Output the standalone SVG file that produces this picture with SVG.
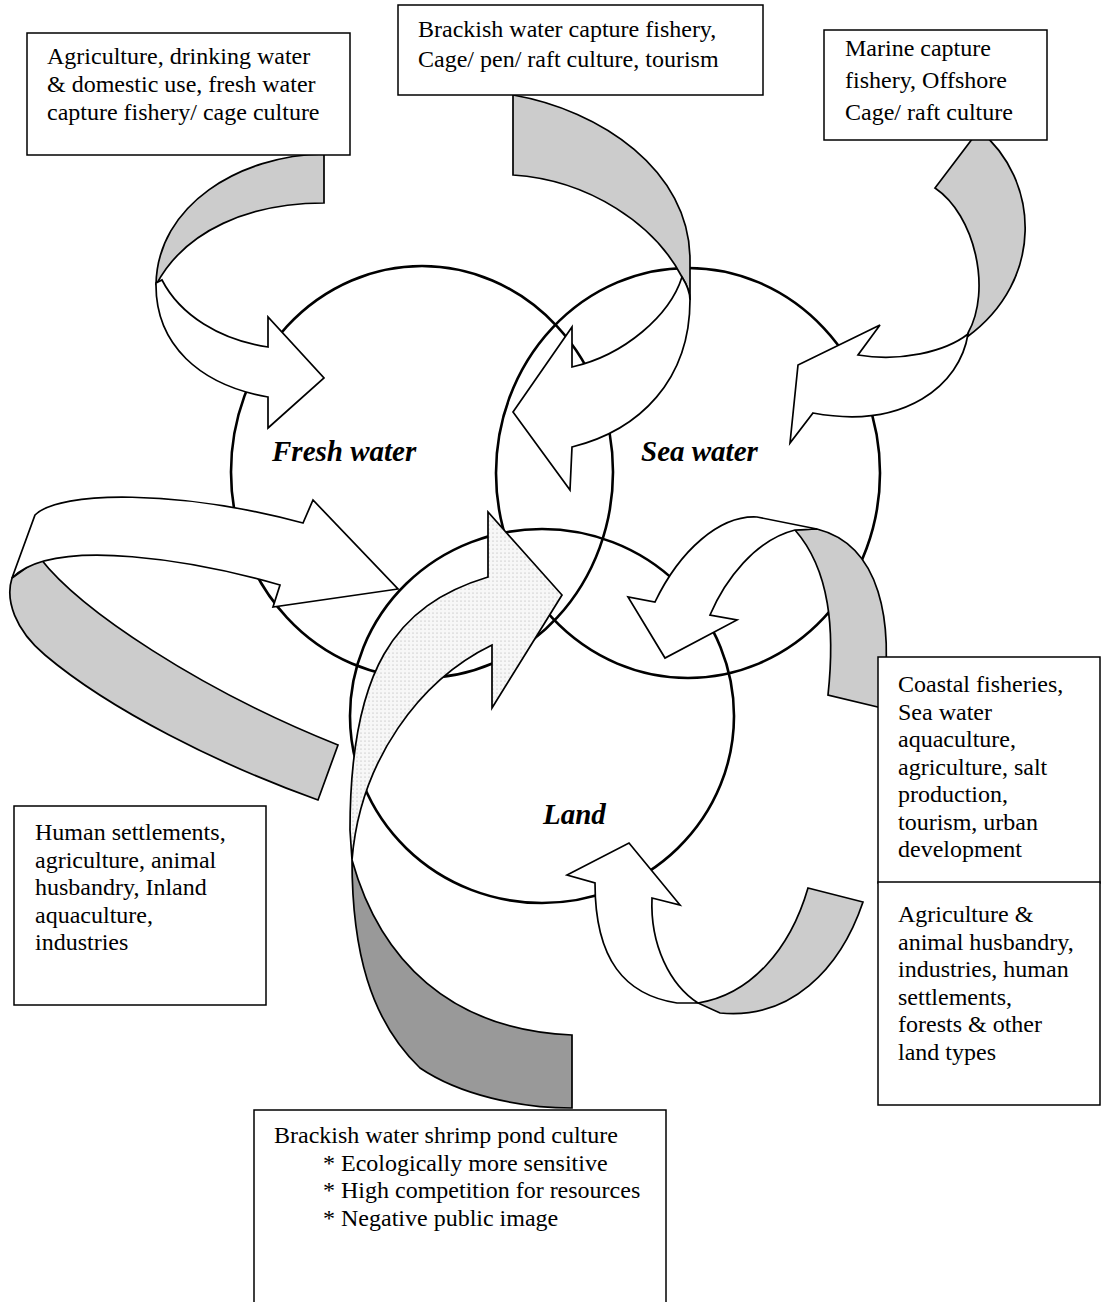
<svg xmlns="http://www.w3.org/2000/svg" width="1108" height="1302" viewBox="0 0 1108 1302">
<defs>
<pattern id="dots" width="4" height="4" patternUnits="userSpaceOnUse">
<rect width="4" height="4" fill="#f7f7f7"/>
<circle cx="1" cy="1" r="0.6" fill="#a8a8a8"/>
</pattern>
<style>
.box{fill:#fff;stroke:#000;stroke-width:1.5}
.t{font-family:"Liberation Serif","Times New Roman",serif;font-size:24px;fill:#000}
.lbl{font-family:"Liberation Serif","Times New Roman",serif;font-size:29px;font-weight:bold;font-style:italic;fill:#000}
.circ{fill:none;stroke:#000;stroke-width:2.6}
.g{fill:#cccccc;stroke:#000;stroke-width:1.7;stroke-linejoin:miter}
.w{fill:#fff;stroke:#000;stroke-width:1.7;stroke-linejoin:miter}
.d{fill:url(#dots);stroke:#000;stroke-width:1.7}
.k{fill:#999999;stroke:#000;stroke-width:1.7}
</style>
</defs>
<rect width="1108" height="1302" fill="#fff"/>

<g id="circles">
<ellipse id="fresh" class="circ" cx="422" cy="472" rx="191" ry="206"/>
<ellipse id="sea" class="circ" cx="688" cy="473" rx="192" ry="205"/>
<ellipse id="land" class="circ" cx="542" cy="716" rx="192" ry="187"/>
</g>

<g id="connectors">
<g id="arrow-freshwater">
<path class="g" d="M324,154 C240,155 157,205 156,285 C185,230 250,203 324,203 Z"/>
<path class="w" d="M156,283 C155,345 200,385 268,397 L268,428 L324,378 L268,317 L268,347 C220,340 180,315 162,280 Z"/>
</g>
<g id="arrow-brackish">
<path class="g" d="M513,95 C600,110 690,170 690,260 L690,300 C690,292 687,285 682,277 C655,225 590,180 513,175 Z"/>
<path class="w" d="M682,277 C670,315 625,355 572,367 L572,327 L513,412 L570,490 L572,447 C640,430 690,380 690,300 C690,292 687,285 682,277 Z"/>
</g>
<g id="arrow-marine">
<path class="g" d="M979,130 C1040,180 1045,280 967,337 L968,333 C992,290 975,215 935,188 Z"/>
<path class="w" d="M968,334 C960,385 905,430 813,413 L790,443 L798,365 L880,325 L858,355 C900,362 945,352 968,334 Z"/>
</g>
<g id="arrow-human">
<path class="g" d="M12,578 C5,600 15,630 45,655 C110,710 220,765 318,800 L338,745 C200,690 80,610 40,558 Z"/>
<path class="w" d="M35,515 C60,490 180,490 303,523 L313,500 L398,589 L273,607 L280,585 C200,562 55,535 12,578 Z"/>
</g>
<g id="arrow-shrimp">
<path class="k" d="M352,860 C352,950 370,1020 420,1068 C460,1095 520,1108 572,1108 L572,1035 C450,1030 380,960 352,860 Z"/>
<path class="d" d="M488,577 L488,512 L562,595 L492,708 L492,645 C420,680 360,760 352,860 L350,830 C350,670 395,605 488,577 Z"/>
</g>
<g id="arrow-coastal">
<path class="g" d="M795,530 L817,529 C880,545 895,620 882,708 L828,695 C835,630 830,570 795,530 Z"/>
<path class="w" d="M817,529 L757,517 C720,515 680,550 655,602 L628,597 L665,658 L737,620 L710,615 C725,580 755,540 795,530 Z"/>
</g>
<g id="arrow-land">
<path class="g" d="M808,888 L863,902 C840,970 790,1020 720,1013 L698,1003 C750,995 790,950 808,888 Z"/>
<path class="w" d="M652,898 L680,905 L629,843 L567,875 L595,883 C595,960 625,995 677,1003 L698,1003 C670,985 650,945 652,898 Z"/>
</g>
</g>

<g id="labels">
<text class="lbl" x="272" y="461">Fresh water</text>
<text class="lbl" x="641" y="461">Sea water</text>
<text class="lbl" x="543" y="824">Land</text>
</g>

<g id="box-fresh">
<rect class="box" x="27" y="33" width="323" height="122"/>
<text class="t" x="47" y="64">Agriculture, drinking water</text>
<text class="t" x="47" y="92">&amp; domestic use, fresh water</text>
<text class="t" x="47" y="120">capture fishery/ cage culture</text>
</g>
<g id="box-brackish">
<rect class="box" x="398" y="5" width="365" height="90"/>
<text class="t" x="418" y="37">Brackish water capture fishery,</text>
<text class="t" x="418" y="67">Cage/ pen/ raft culture, tourism</text>
</g>
<g id="box-marine">
<rect class="box" x="824" y="30" width="223" height="110"/>
<text class="t" x="845" y="56">Marine capture</text>
<text class="t" x="845" y="88">fishery, Offshore</text>
<text class="t" x="845" y="120">Cage/ raft culture</text>
</g>
<g id="box-coastal">
<rect class="box" x="878" y="657" width="222" height="226"/>
<text class="t" x="898" y="692">Coastal fisheries,</text>
<text class="t" x="898" y="719.5">Sea water</text>
<text class="t" x="898" y="747">aquaculture,</text>
<text class="t" x="898" y="774.5">agriculture, salt</text>
<text class="t" x="898" y="802">production,</text>
<text class="t" x="898" y="829.5">tourism, urban</text>
<text class="t" x="898" y="857">development</text>
</g>
<g id="box-land">
<rect class="box" x="878" y="882" width="222" height="223"/>
<text class="t" x="898" y="922">Agriculture &amp;</text>
<text class="t" x="898" y="949.5">animal husbandry,</text>
<text class="t" x="898" y="977">industries, human</text>
<text class="t" x="898" y="1004.5">settlements,</text>
<text class="t" x="898" y="1032">forests &amp; other</text>
<text class="t" x="898" y="1059.5">land types</text>
</g>
<g id="box-human">
<rect class="box" x="14" y="806" width="252" height="199"/>
<text class="t" x="35" y="840">Human settlements,</text>
<text class="t" x="35" y="867.5">agriculture, animal</text>
<text class="t" x="35" y="895">husbandry, Inland</text>
<text class="t" x="35" y="922.5">aquaculture,</text>
<text class="t" x="35" y="950">industries</text>
</g>
<g id="box-shrimp">
<rect class="box" x="254" y="1110" width="412" height="200"/>
<text class="t" x="274" y="1143">Brackish water shrimp pond culture</text>
<text class="t" x="323" y="1170.5">* Ecologically more sensitive</text>
<text class="t" x="323" y="1198">* High competition for resources</text>
<text class="t" x="323" y="1225.5">* Negative public image</text>
</g>
</svg>
